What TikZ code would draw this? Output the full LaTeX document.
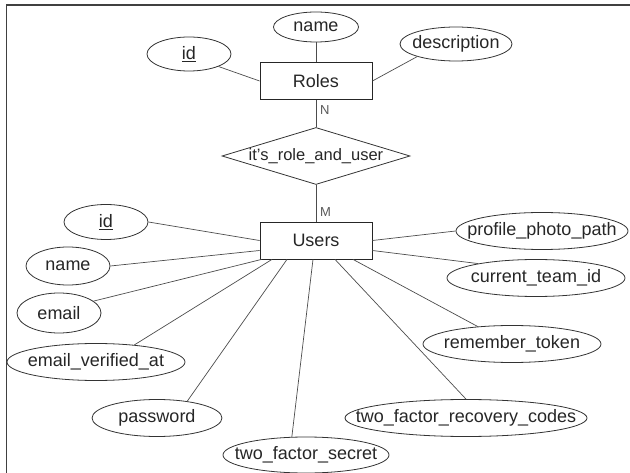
\documentclass[tikz,border=0pt]{standalone}
\usepackage{fontspec}
\setmainfont{Liberation Sans}
\usetikzlibrary{shapes.geometric}
\newcommand{\zt}[1]{\makebox[0pt][c]{#1}}
\begin{document}
\begin{tikzpicture}[x=1pt,y=-1pt,
  every node/.style={font=\fontsize{18}{21}\selectfont, text=black!85},
  attr/.style args={#1/#2}{draw=black!80, line width=0.8pt, ellipse, inner sep=0pt, minimum width=#1pt, minimum height=#2pt},
  entity/.style={draw=black!85, line width=0.8pt, rectangle, inner sep=0pt, minimum width=112pt, minimum height=37pt},
  rel/.style={draw=black!80, line width=0.8pt, diamond, inner sep=0pt, minimum width=188pt, minimum height=57pt, font=\fontsize{16.5}{19}\selectfont},
  conn/.style={draw=black!70, line width=0.7pt},
  card/.style={font=\fontsize{13}{15}\selectfont, text=black!65, inner sep=0pt, anchor=west},
  frame/.style={draw=black!75, line width=1.8pt}
]
\useasboundingbox (0,0) rectangle (630,473);
\draw[frame] (630,5) -- (6.5,5) -- (6.5,473);

% Roles
\node[entity] (roles) at (316,81) {\zt{Roles}};
\node[attr=85/30] (rname) at (316,27) {\zt{name}};
\node[attr=84/34] (rid) at (189,54) {\zt{\underline{id}}};
\node[attr=112/34] (rdesc) at (456,44) {\zt{description}};

% Relationship
\node[rel] (rel) at (316,156) {\zt{it's\_role\_and\_user}};

% Users
\node[entity] (users) at (316,240.5) {\zt{Users}};
\node[attr=84/35] (uid) at (106,222) {\zt{\underline{id}}};
\node[attr=84/38] (uname) at (68,266) {\zt{name}};
\node[attr=84/40] (uemail) at (59,313) {\zt{email}};
\node[attr=178/37] (uev) at (96,362) {\zt{email\_verified\_at}};
\node[attr=130/37] (upass) at (157,418) {\zt{password}};
\node[attr=166/36] (usecret) at (306,455) {\zt{two\_factor\_secret}};
\node[attr=242/37] (urec) at (466,418) {\zt{two\_factor\_recovery\_codes}};
\node[attr=178/37] (urem) at (512,344) {\zt{remember\_token}};
\node[attr=178/37] (uteam) at (536,278) {\zt{current\_team\_id}};
\node[attr=172/37] (uphoto) at (542,231) {\zt{profile\_photo\_path}};

% cardinalities
\node[card] (cn) at (320,110) {N};
\node[card] (cm) at (320,212) {M};

% connectors Roles
\draw[conn] (rname) -- (roles);
\draw[conn] (rid.-23) -- (roles.west);
\draw[conn] (rdesc.198) -- (roles.east);
\draw[conn] (roles.south) -- (rel.north);
\draw[conn] (rel.south) -- (users.north);

% connectors Users
\draw[conn] (uid.east) -- (users.west);
\draw[conn] (uname.east) -- ([yshift=-10pt]users.west);
\draw[conn] (uemail.19.5) -- ([xshift=2pt]users.south west);
\draw[conn] (uev.24.7) -- ([xshift=-44pt]users.south);
\draw[conn] (upass.29) -- ([xshift=-29pt]users.south);
\draw[conn] (usecret.128) -- ([xshift=-3pt]users.south);
\draw[conn] (urec.north) -- ([xshift=19pt]users.south);
\draw[conn] (urem.153) -- ([xshift=37pt]users.south);
\draw[conn] (uteam.166.6) -- ([yshift=-10pt]users.east);
\draw[conn] (uphoto.west) -- (users.east);
\end{tikzpicture}
\end{document}
